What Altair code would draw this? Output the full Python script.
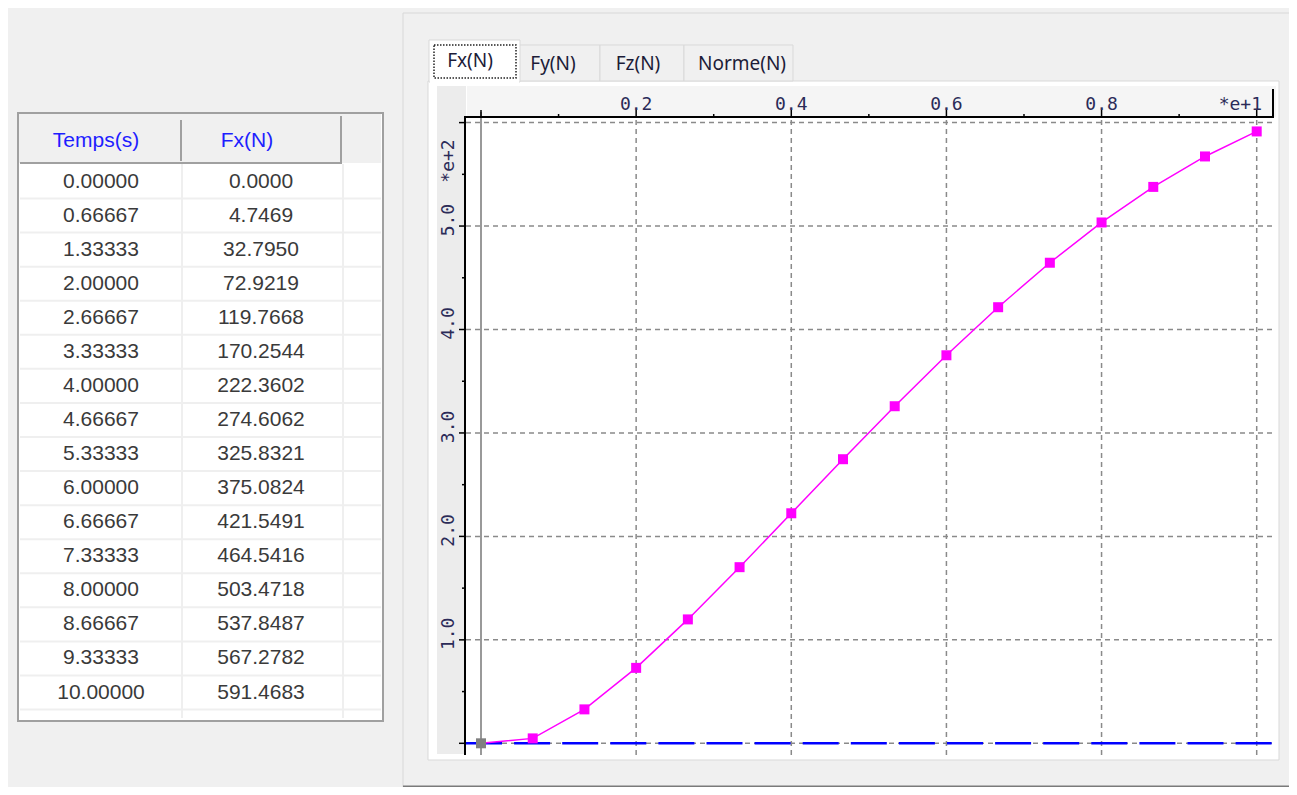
import altair as alt
import pandas as pd

# ---------------- data ----------------
times = [0.0, 0.66667, 1.33333, 2.0, 2.66667, 3.33333, 4.0, 4.66667,
         5.33333, 6.0, 6.66667, 7.33333, 8.0, 8.66667, 9.33333, 10.0]
fx = [0.0, 4.7469, 32.7950, 72.9219, 119.7668, 170.2544, 222.3602, 274.6062,
      325.8321, 375.0824, 421.5491, 464.5416, 503.4718, 537.8487, 567.2782, 591.4683]
headers = ["Temps(s)", "Fx(N)"]
tabs = ["Fx(N)", "Fy(N)", "Fz(N)", "Norme(N)"]

x_major = [0, 2, 4, 6, 8, 10]
x_minor = [1, 3, 5, 7, 9]
x_grid = [2, 4, 6, 8, 10]
x_label_pos = [2, 4, 6, 8]
x_labels = ["0.2", "0.4", "0.6", "0.8"]
x_exp = "*e+1"

y_major = [0, 100, 200, 300, 400, 500, 600]
y_minor = [50, 150, 250, 350, 450, 550]
y_grid = [0, 100, 200, 300, 400, 500, 600]
y_label_pos = [100, 200, 300, 400, 500]
y_labels = ["1.0", "2.0", "3.0", "4.0", "5.0"]
y_exp = "*e+2"
zero_level = [0]

# ---------------- layout helpers ----------------
OX, OY = 466, 118          # page position of the plot area's top-left
W, H = 809, 639


def P(px):
    return px - OX


def Q(py):
    return py - OY


ONE = alt.Data(values=[{"k": 0}])

xs = alt.Scale(domain=[-0.1934, 10.2359], nice=False, zero=False)
ys = alt.Scale(domain=[-13.24, 604.45], nice=False, zero=False)


def rect(x1, x2, y1, y2, **kw):
    return alt.Chart(ONE).mark_rect(**kw).encode(
        x=alt.value(P(x1)), x2=alt.value(P(x2)), y=alt.value(Q(y1)), y2=alt.value(Q(y2)))


def hline(x1, x2, y, **kw):
    return alt.Chart(ONE).mark_rule(**kw).encode(
        x=alt.value(P(x1)), x2=alt.value(P(x2)), y=alt.value(Q(y)))


def vline(x, y1, y2, **kw):
    return alt.Chart(ONE).mark_rule(**kw).encode(
        x=alt.value(P(x)), y=alt.value(Q(y1)), y2=alt.value(Q(y2)))


def label(x, y, s, **kw):
    return alt.Chart(ONE).mark_text(text=s, **kw).encode(
        x=alt.value(P(x)), y=alt.value(Q(y)))


layers = []

# ---- outer panel frame ----
layers.append(rect(403, 1300, 13, 787, fill="#f0f0f0", stroke="#d8d8d8", strokeWidth=1))
layers.append(hline(403, 1300, 787, color="#7a7a7a", strokeWidth=3))

# ---- tab page ----
layers.append(rect(428, 1279, 81, 760, fill="white", stroke="#d9d9d9", strokeWidth=1))
tab_x = [(429, 520), (519, 600), (600, 684), (684, 793)]
tab_cx = [470, 553, 638, 742]
for i in range(1, 4):
    a, b = tab_x[i]
    layers.append(rect(a, b, 45, 81, fill="#f0f0f0", stroke="#d9d9d9", strokeWidth=1))
layers.append(rect(429, 520, 40, 82, fill="white", stroke="#d9d9d9", strokeWidth=1))
layers.append(rect(430, 519, 79, 84, fill="white"))
layers.append(rect(434, 516, 45, 78, filled=False, stroke="#222222",
                   strokeWidth=1.5, strokeDash=[1.5, 1.5]))
for i, t in enumerate(tabs):
    layers.append(label(tab_cx[i], 61 if i == 0 else 63.5, t, font="Noto Sans", fontSize=19,
                        color="#1c1c38", align="center", baseline="middle"))

# ---- axis label areas ----
layers.append(rect(467, 1276, 86, 117, fill="#f5f5f5"))
layers.append(rect(437, 466, 86, 117, fill="#ececec"))
layers.append(rect(437, 464, 117, 754, fill="#ececec"))

# ---- table ----
df = pd.DataFrame({"row": list(range(len(times))), "t": times, "f": fx})
sep = pd.DataFrame({"b": [r + 0.5 for r in range(len(times))]})
tbl_scale = alt.Scale(domain=[0, 15], range=[Q(181.5), Q(692.5)], nice=False, zero=False)

layers.append(rect(18, 383, 113, 721, fill="white", stroke="#a0a0a0", strokeWidth=2))
layers.append(rect(19, 381, 114, 163, fill="#f0f0f0"))
layers.append(vline(181, 120, 161, color="#a0a0a0", strokeWidth=2))
layers.append(vline(341, 116, 163, color="#a0a0a0", strokeWidth=2))
layers.append(hline(20, 342, 163, color="#a0a0a0", strokeWidth=2))
layers.append(alt.Chart(sep).mark_rule(color="#efefef", strokeWidth=2).encode(
    y=alt.Y("b:Q", scale=tbl_scale, axis=None), x=alt.value(P(20)), x2=alt.value(P(381))))
layers.append(vline(182, 164, 718, color="#efefef", strokeWidth=2))
layers.append(vline(343, 164, 718, color="#efefef", strokeWidth=2))
layers.append(label(96, 141, headers[0], font="Liberation Sans", fontSize=21, color="#1e1eff",
                    align="center", baseline="middle"))
layers.append(label(247, 141, headers[1], font="Liberation Sans", fontSize=21, color="#1e1eff",
                    align="center", baseline="middle"))
layers.append(alt.Chart(df).mark_text(font="Liberation Sans", fontSize=21, color="#3a3a3a",
                                      baseline="middle").encode(
    x=alt.value(P(101)), y=alt.Y("row:Q", scale=tbl_scale, axis=None),
    text=alt.Text("t:Q", format=".5f")))
layers.append(alt.Chart(df).mark_text(font="Liberation Sans", fontSize=21, color="#3a3a3a",
                                      baseline="middle").encode(
    x=alt.value(P(261)), y=alt.Y("row:Q", scale=tbl_scale, axis=None),
    text=alt.Text("f:Q", format=".4f")))

# ---- grid ----
grid_style = dict(color="#8a8a8a", strokeWidth=1.5, strokeDash=[5, 4])
layers.append(alt.Chart(pd.DataFrame({"v": y_grid})).mark_rule(**grid_style).encode(
    y=alt.Y("v:Q", scale=ys, axis=None), x=alt.value(0), x2=alt.value(W)))
layers.append(alt.Chart(pd.DataFrame({"t": x_grid})).mark_rule(**grid_style).encode(
    x=alt.X("t:Q", scale=xs, axis=None), y=alt.value(Q(120)), y2=alt.value(Q(755))))

# cursor line at t = 0
layers.append(alt.Chart(pd.DataFrame({"t": [times[0]]})).mark_rule(color="#999999", strokeWidth=2).encode(
    x=alt.X("t:Q", scale=xs, axis=None), y=alt.value(Q(112)), y2=alt.value(Q(755))))

# ---- axes ----
layers.append(hline(465, 1274, 117, color="black", strokeWidth=2))
layers.append(vline(1273, 89, 118, color="black", strokeWidth=2))
layers.append(vline(465, 116, 755, color="black", strokeWidth=2))
layers.append(alt.Chart(pd.DataFrame({"t": x_major})).mark_rule(color="black", strokeWidth=1.5).encode(
    x=alt.X("t:Q", scale=xs, axis=None), y=alt.value(Q(110)), y2=alt.value(Q(117))))
layers.append(alt.Chart(pd.DataFrame({"t": x_minor})).mark_rule(color="black", strokeWidth=1.5).encode(
    x=alt.X("t:Q", scale=xs, axis=None), y=alt.value(Q(114)), y2=alt.value(Q(117))))
layers.append(alt.Chart(pd.DataFrame({"v": y_major})).mark_rule(color="black", strokeWidth=1.5).encode(
    y=alt.Y("v:Q", scale=ys, axis=None), x=alt.value(P(459)), x2=alt.value(P(465))))
layers.append(alt.Chart(pd.DataFrame({"v": y_minor})).mark_rule(color="black", strokeWidth=1.5).encode(
    y=alt.Y("v:Q", scale=ys, axis=None), x=alt.value(P(462)), x2=alt.value(P(465))))

# ---- zero level (blue dashed) ----
layers.append(alt.Chart(pd.DataFrame({"v": zero_level})).mark_rule(
    color="#0000ff", strokeWidth=2.5, strokeDash=[36, 12.1]).encode(
    y=alt.Y("v:Q", scale=ys, axis=None), x=alt.value(0), x2=alt.value(P(1273))))

# ---- Fx series ----
base = alt.Chart(df).encode(x=alt.X("t:Q", scale=xs, axis=None),
                            y=alt.Y("f:Q", scale=ys, axis=None))
layers.append(base.mark_line(color="#ff00ff", strokeWidth=1.5))
layers.append(base.transform_filter("datum.row > 0").mark_square(size=100, color="#ff00ff", opacity=1))
layers.append(base.transform_filter("datum.row == 0").mark_square(size=100, color="#808080", opacity=1))

# ---- axis labels ----
mono = dict(font="DejaVu Sans Mono", fontSize=18, color="#2b2b58")
layers.append(alt.Chart(pd.DataFrame({"t": x_label_pos, "s": x_labels})).mark_text(
    align="center", baseline="middle", **mono).encode(
    x=alt.X("t:Q", scale=xs, axis=None), y=alt.value(Q(104.5)), text="s:N"))
layers.append(label(1262, 104.5, x_exp, align="right", baseline="middle", **mono))
layers.append(alt.Chart(pd.DataFrame({"v": y_label_pos, "s": y_labels})).mark_text(
    align="center", baseline="middle", angle=270, dx=6, **mono).encode(
    y=alt.Y("v:Q", scale=ys, axis=None), x=alt.value(P(449)), text="s:N"))
layers.append(label(449, 161, y_exp, align="center", baseline="middle", angle=270, **mono))

chart = alt.layer(*layers).resolve_scale(x="independent", y="independent").properties(
    width=W, height=H,
    autosize=alt.AutoSizeParams(type="none"),
    padding={"left": OX - 8, "top": OY - 8, "right": 1281 - (OX - 8) - W, "bottom": 779 - (OY - 8) - H},
    background="#f0f0f0",
).configure_view(strokeWidth=0)

chart.save("out.html", embed_options={"renderer": "svg", "actions": False})
